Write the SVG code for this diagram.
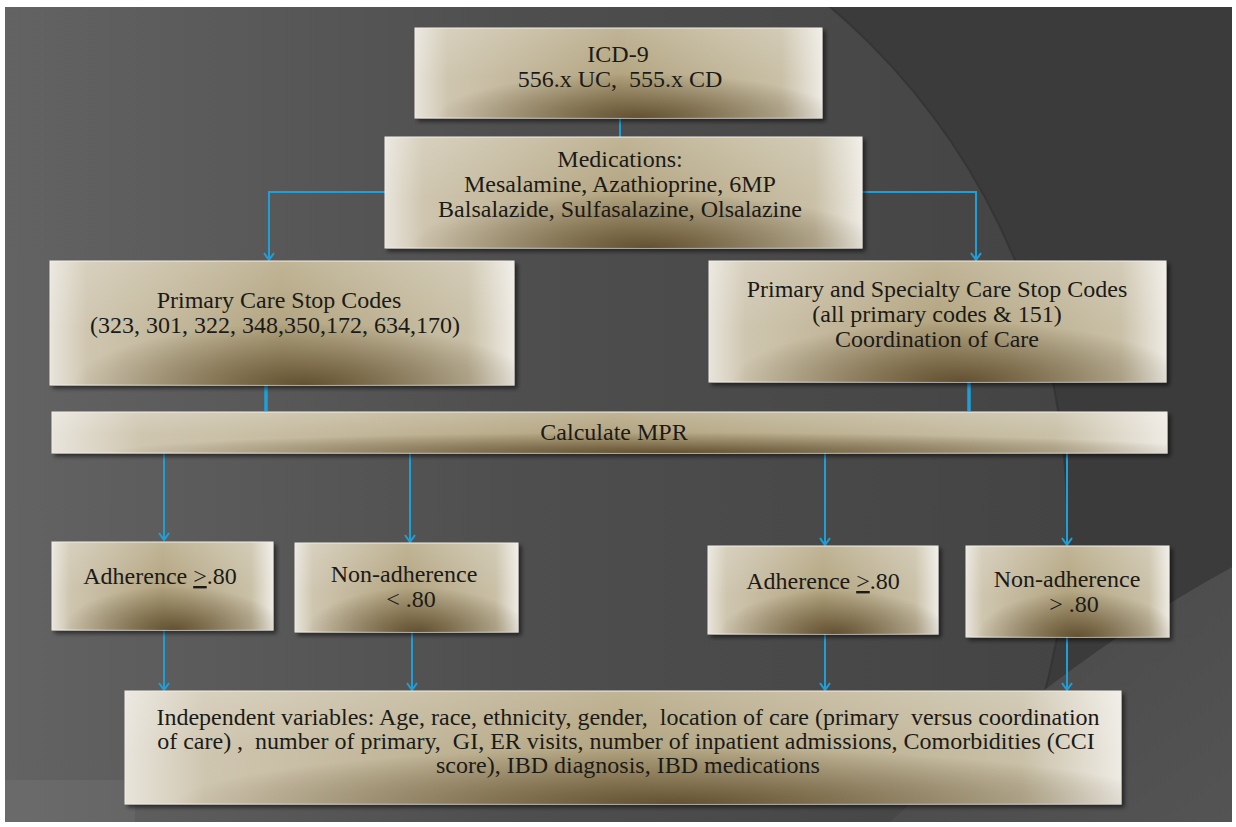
<svg xmlns="http://www.w3.org/2000/svg" width="1236" height="827" viewBox="0 0 1236 827">
<defs>
  <linearGradient id="bg" x1="0" y1="0" x2="1" y2="0">
    <stop offset="0" stop-color="#6f6f6f"/>
    <stop offset="0.3" stop-color="#5e5e5e"/>
    <stop offset="0.6" stop-color="#4e4e4e"/>
    <stop offset="1" stop-color="#444444"/>
  </linearGradient>
  <linearGradient id="br" x1="0" y1="0" x2="1" y2="1">
    <stop offset="0" stop-color="#474747"/>
    <stop offset="1" stop-color="#545454"/>
  </linearGradient>
  <linearGradient id="gH" x1="0" y1="0" x2="1" y2="0">
    <stop offset="0" stop-color="#e8e4db"/>
    <stop offset="0.08" stop-color="#cfc6b0"/>
    <stop offset="0.5" stop-color="#b2a47f"/>
    <stop offset="0.9" stop-color="#c9c0a7"/>
    <stop offset="1" stop-color="#eeebe4"/>
  </linearGradient>
  <radialGradient id="gD" cx="0.55" cy="1" r="0.5">
    <stop offset="0" stop-color="#5a4828" stop-opacity="0.9"/>
    <stop offset="1" stop-color="#5a4828" stop-opacity="0"/>
  </radialGradient>
  <linearGradient id="gT" x1="0" y1="0" x2="0" y2="1">
    <stop offset="0" stop-color="#ffffff" stop-opacity="0.18"/>
    <stop offset="0.55" stop-color="#ffffff" stop-opacity="0"/>
  </linearGradient>
  <filter id="sh" x="-5%" y="-10%" width="115%" height="130%">
    <feDropShadow dx="3" dy="3" stdDeviation="2" flood-color="#000" flood-opacity="0.55"/>
  </filter>
  <clipPath id="slide"><rect x="5" y="7" width="1227" height="815"/></clipPath>
  <marker id="ah" markerUnits="userSpaceOnUse" markerWidth="12" markerHeight="12" refX="8" refY="6" orient="auto">
    <path d="M1,1 L8,6 L1,11" fill="none" stroke="#1e9fd8" stroke-width="2"/>
  </marker>
  <style>
    .b { fill: url(#gH); stroke: #efebe3; stroke-width: 1; }
    .d { fill: url(#gD); }
    .t { fill: url(#gT); }
    .box { filter: url(#sh); }
    text { font-family: "Liberation Serif", "Times New Roman", serif; font-size: 24px; fill: #1c1a16; text-anchor: middle; }
    .c { fill: none; stroke: #1e9fd8; stroke-width: 2; }
    .cw { fill: none; stroke: #1e9fd8; stroke-width: 3.5; }
  </style>
</defs>

<rect x="0" y="0" width="1236" height="827" fill="#ffffff"/>
<g clip-path="url(#slide)">
  <rect x="5" y="7" width="1227" height="815" fill="#3b3b3b"/>
  <circle cx="393" cy="520" r="674" fill="url(#bg)"/>
  <circle cx="393" cy="520" r="674" fill="none" stroke="#2e2e2e" stroke-width="2" stroke-opacity="0.6"/>
  <path d="M1236,565 Q1060,660 885,827 L1236,827 Z" fill="url(#br)"/>
  <rect x="5" y="780" width="130" height="45" fill="#ffffff" fill-opacity="0.05"/>
</g>

<g id="connectors">
  <path class="c" d="M620,118 V137"/>
  <path class="c" d="M385,192 H269 V260" marker-end="url(#ah)"/>
  <path class="c" d="M862,192 H976 V260" marker-end="url(#ah)"/>
  <path class="cw" d="M266,385 V411"/>
  <path class="cw" d="M969,382 V411"/>
  <path class="c" d="M164,453 V540" marker-end="url(#ah)"/>
  <path class="c" d="M410,453 V542" marker-end="url(#ah)"/>
  <path class="c" d="M825,453 V545" marker-end="url(#ah)"/>
  <path class="c" d="M1067,453 V545" marker-end="url(#ah)"/>
  <path class="c" d="M164,630 V690" marker-end="url(#ah)"/>
  <path class="c" d="M412,632 V690" marker-end="url(#ah)"/>
  <path class="c" d="M825,634 V690" marker-end="url(#ah)"/>
  <path class="c" d="M1067,637 V690" marker-end="url(#ah)"/>
</g>

<g id="icd9">
  <g class="box"><rect class="b" x="415" y="28" width="407" height="90"/></g>
  <rect class="d" x="415" y="28" width="407" height="90"/>
  <rect class="t" x="415" y="28" width="407" height="90"/>
  <text x="618" y="62">ICD-9</text>
  <text x="620" y="87" xml:space="preserve">556.x UC,  555.x CD</text>
</g>

<g id="medications">
  <g class="box"><rect class="b" x="385" y="137" width="477" height="111"/></g>
  <rect class="d" x="385" y="137" width="477" height="111"/>
  <rect class="t" x="385" y="137" width="477" height="111"/>
  <text x="620" y="167">Medications:</text>
  <text x="620" y="192">Mesalamine, Azathioprine, 6MP</text>
  <text x="620" y="217">Balsalazide, Sulfasalazine, Olsalazine</text>
</g>

<g id="primary">
  <g class="box"><rect class="b" x="50" y="261" width="464" height="124"/></g>
  <rect class="d" x="50" y="261" width="464" height="124"/>
  <rect class="t" x="50" y="261" width="464" height="124"/>
  <text x="279" y="308">Primary Care Stop Codes</text>
  <text x="275" y="333">(323, 301, 322, 348,350,172, 634,170)</text>
</g>

<g id="specialty">
  <g class="box"><rect class="b" x="709" y="261" width="457" height="121"/></g>
  <rect class="d" x="709" y="261" width="457" height="121"/>
  <rect class="t" x="709" y="261" width="457" height="121"/>
  <text x="937" y="297">Primary and Specialty Care Stop Codes</text>
  <text x="937" y="322">(all primary codes &amp; 151)</text>
  <text x="937" y="347">Coordination of Care</text>
</g>

<g id="mpr">
  <g class="box"><rect class="b" x="52" y="412" width="1115" height="41"/></g>
  <rect class="d" x="52" y="412" width="1115" height="41"/>
  <rect class="t" x="52" y="412" width="1115" height="41"/>
  <text x="614" y="440">Calculate MPR</text>
</g>

<g id="adh-left">
  <g class="box"><rect class="b" x="52" y="542" width="221" height="88"/></g>
  <rect class="d" x="52" y="542" width="221" height="88"/>
  <rect class="t" x="52" y="542" width="221" height="88"/>
  <text x="160" y="584">Adherence <tspan text-decoration="underline">&gt;</tspan>.80</text>
</g>

<g id="nonadh-left">
  <g class="box"><rect class="b" x="295" y="543" width="223" height="89"/></g>
  <rect class="d" x="295" y="543" width="223" height="89"/>
  <rect class="t" x="295" y="543" width="223" height="89"/>
  <text x="404" y="582">Non-adherence</text>
  <text x="411" y="607">&lt; .80</text>
</g>

<g id="adh-right">
  <g class="box"><rect class="b" x="708" y="546" width="230" height="88"/></g>
  <rect class="d" x="708" y="546" width="230" height="88"/>
  <rect class="t" x="708" y="546" width="230" height="88"/>
  <text x="823" y="589">Adherence <tspan text-decoration="underline">&gt;</tspan>.80</text>
</g>

<g id="nonadh-right">
  <g class="box"><rect class="b" x="966" y="546" width="203" height="91"/></g>
  <rect class="d" x="966" y="546" width="203" height="91"/>
  <rect class="t" x="966" y="546" width="203" height="91"/>
  <text x="1067" y="587">Non-adherence</text>
  <text x="1074" y="612">&gt; .80</text>
</g>

<g id="independent">
  <g class="box"><rect class="b" x="125" y="691" width="996" height="113"/></g>
  <rect class="d" x="125" y="691" width="996" height="113"/>
  <rect class="t" x="125" y="691" width="996" height="113"/>
  <text x="628" y="725" xml:space="preserve">Independent variables: Age, race, ethnicity, gender,  location of care (primary  versus coordination</text>
  <text x="626" y="749" xml:space="preserve">of care) ,  number of primary,  GI, ER visits, number of inpatient admissions, Comorbidities (CCI</text>
  <text x="628" y="773">score), IBD diagnosis, IBD medications</text>
</g>
</svg>
